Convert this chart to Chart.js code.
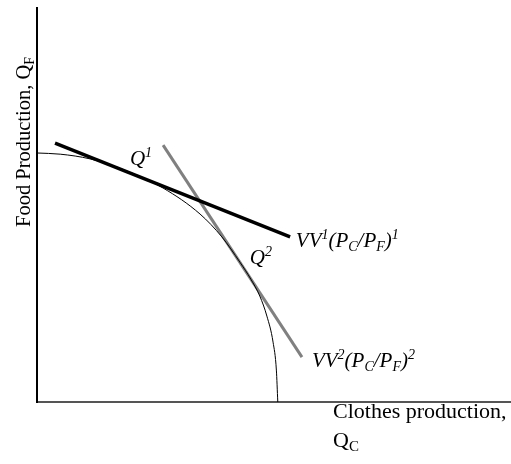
<!DOCTYPE html>
<html>
<head>
<meta charset="utf-8">
<script src="https://cdn.jsdelivr.net/npm/chart.js@4"></script>
<style>
  body { margin: 0; background: #fff; }
  canvas { display: block; }
</style>
</head>
<body>
<canvas id="ppfChart" width="511" height="464"></canvas>
<script>
// production possibility frontier (Clothes on x, Food on y)
const ppfClothes = [0, 4.9, 11.2, 18.4, 26.6, 34.4, 39.0, 42.8, 45.1, 47.0, 48.5, 49.8, 50.5, 50.8];
const ppfFood = [63.2, 62.9, 61.7, 58.9, 54.3, 47.7, 41.9, 35.5, 31.2, 26.9, 21.8, 15.2, 8.1, 0];

// isovalue lines at the two relative prices
const vv1Clothes = [3.8, 53.4];
const vv1Food = [65.7, 41.9];
const vv2Clothes = [26.6, 55.9];
const vv2Food = [65.2, 11.4];

const toPoints = (xs, ys) => xs.map((x, i) => ({ x: x, y: ys[i] }));

const SERIF = '"Liberation Serif", "Times New Roman", serif';

// draw a run of text pieces, each with its own size / offset (for sub and superscripts)
function drawRich(ctx, x, y, parts) {
    let cx = x;
    parts.forEach(p => {
        ctx.font = (p.i ? 'italic ' : '') + p.s + 'px ' + SERIF;
        ctx.fillText(p.t, cx, y + (p.dy || 0));
        cx += ctx.measureText(p.t).width;
    });
}

const sup = (t) => ({ t: t, s: 14, i: true, dy: -8 });
const sub = (t) => ({ t: t, s: 14, i: true, dy: 4 });
const it = (t) => ({ t: t, s: 21, i: true });

const textLayer = {
    id: 'textLayer',
    afterDraw(chart) {
        const { ctx, chartArea: area, scales: { x, y } } = chart;
        ctx.save();
        ctx.fillStyle = '#000';
        ctx.textBaseline = 'alphabetic';
        ctx.textAlign = 'left';

        // point labels, anchored in data units
        drawRich(ctx, x.getPixelForValue(19.6), y.getPixelForValue(60.2), [it('Q'), sup('1')]);
        drawRich(ctx, x.getPixelForValue(44.9), y.getPixelForValue(35.0), [it('Q'), sup('2')]);
        drawRich(ctx, x.getPixelForValue(54.6), y.getPixelForValue(39.3),
            [it('VV'), sup('1'), it('(P'), sub('C'), it('/P'), sub('F'), it(')'), sup('1')]);
        drawRich(ctx, x.getPixelForValue(58.0), y.getPixelForValue(8.9),
            [it('VV'), sup('2'), it('(P'), sub('C'), it('/P'), sub('F'), it(')'), sup('2')]);

        // x axis title, two lines under the right end of the axis
        drawRich(ctx, 333, area.bottom + 16, [{ t: 'Clothes production,', s: 22 }]);
        drawRich(ctx, 333, area.bottom + 45, [{ t: 'Q', s: 22 }, { t: 'C', s: 15, dy: 4 }]);

        // y axis title, rotated
        ctx.translate(30, 227);
        ctx.rotate(-Math.PI / 2);
        drawRich(ctx, 0, 0, [{ t: 'Food Production, Q', s: 20.5 }, { t: 'F', s: 14, dy: 4 }]);
        ctx.restore();
    }
};

const ctx = document.getElementById('ppfChart').getContext('2d');
new Chart(ctx, {
    type: 'scatter',
    data: {
        datasets: [
            {
                label: 'PPF',
                data: toPoints(ppfClothes, ppfFood),
                showLine: true,
                borderColor: '#000',
                borderWidth: 1,
                pointRadius: 0,
                cubicInterpolationMode: 'monotone'
            },
            {
                label: 'VV1',
                data: toPoints(vv1Clothes, vv1Food),
                showLine: true,
                borderColor: '#000',
                borderWidth: 3.5,
                pointRadius: 0
            },
            {
                label: 'VV2',
                data: toPoints(vv2Clothes, vv2Food),
                showLine: true,
                borderColor: '#808080',
                borderWidth: 3,
                pointRadius: 0
            }
        ]
    },
    options: {
        responsive: false,
        animation: false,
        layout: { padding: { left: 37, top: 8, right: 0, bottom: 62 } },
        plugins: {
            legend: { display: false },
            tooltip: { enabled: false }
        },
        scales: {
            x: {
                type: 'linear',
                min: 0,
                max: 100,
                ticks: { display: false },
                grid: { display: false, drawTicks: false },
                border: { color: '#555', width: 2 }
            },
            y: {
                type: 'linear',
                min: 0,
                max: 100,
                ticks: { display: false },
                grid: { display: false, drawTicks: false },
                border: { color: '#000', width: 2 }
            }
        }
    },
    plugins: [textLayer]
});
</script>
</body>
</html>
